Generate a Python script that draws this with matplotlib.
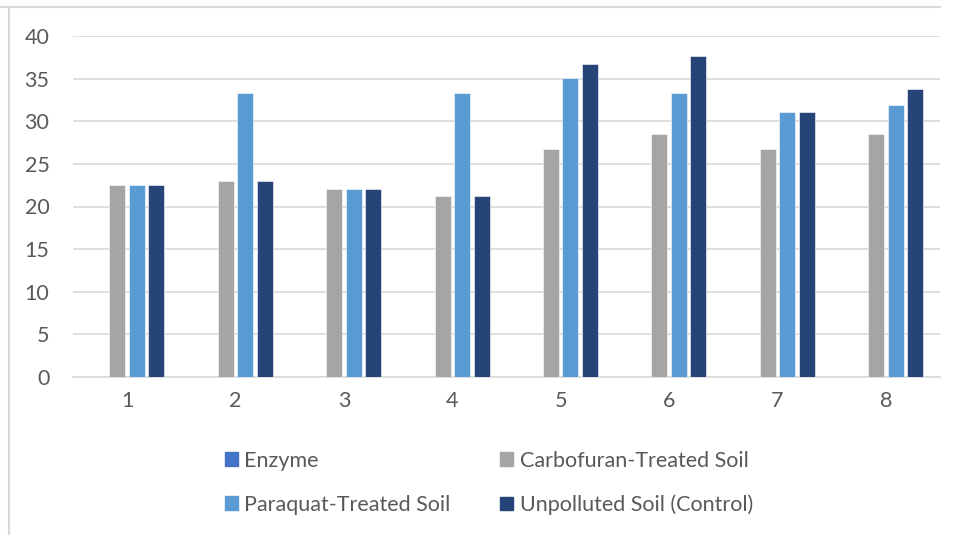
import matplotlib
matplotlib.use("Agg")
import matplotlib.pyplot as plt
import numpy as np
from matplotlib.lines import Line2D
from matplotlib.patches import Patch

categories = ["1", "2", "3", "4", "5", "6", "7", "8"]
series_names = ["Enzyme", "Carbofuran-Treated Soil", "Paraquat-Treated Soil", "Unpolluted Soil (Control)"]
enzyme = [0, 0, 0, 0, 0, 0, 0, 0]
carbofuran = [22.5, 23.0, 22.1, 21.2, 26.8, 28.5, 26.8, 28.5]
paraquat = [22.5, 33.3, 22.1, 33.3, 35.1, 33.3, 31.1, 31.9]
unpolluted = [22.5, 23.0, 22.1, 21.2, 36.7, 37.7, 31.1, 33.8]
yticks = [0, 5, 10, 15, 20, 25, 30, 35, 40]

colors = ["#4472C4", "#A5A5A5", "#5B9BD5", "#264478"]
text_color = "#595959"
grid_color = "#D9D9D9"
font = ["Lato", "DejaVu Sans"]
plt.rcParams["font.family"] = font
fs = 15.5

fig = plt.figure(figsize=(9.54, 5.35), dpi=100)
ax = fig.add_axes([73/954, 1-377/535, (940-73)/954, (377-36)/535])

x = np.arange(len(categories))
step = 0.18
width = 0.148
data = [enzyme, carbofuran, paraquat, unpolluted]
for i, (vals, c) in enumerate(zip(data, colors)):
    ax.bar(x + (i - 1.5) * step, vals, width=width, color=c, zorder=3,
           edgecolor="white", linewidth=0.4)

ax.set_xlim(-0.5, len(categories) - 0.5)
ax.set_ylim(0, 40)
ax.set_yticks(yticks)
ax.set_xticks(x)
ax.set_xticklabels(categories)
ax.yaxis.grid(True, color=grid_color, linewidth=1.2, zorder=0)
ax.set_axisbelow(True)
for s in ["left", "right", "top"]:
    ax.spines[s].set_visible(False)
ax.spines["bottom"].set_color(grid_color)
ax.spines["bottom"].set_linewidth(1.2)
ax.tick_params(axis="both", length=0, labelsize=fs, labelcolor=text_color)
ax.tick_params(axis="y", pad=17)
ax.tick_params(axis="x", pad=10)

# legend
handles = [Patch(color=c) for c in colors]
order = [0, 2, 1, 3]
leg = fig.legend([handles[i] for i in order], [series_names[i] for i in order],
                 ncol=2, loc="center", bbox_to_anchor=(489/954, 1-483/535),
                 frameon=False, fontsize=fs, labelcolor=text_color,
                 handlelength=0.6, handleheight=0.6, handletextpad=0.3,
                 columnspacing=2.3, labelspacing=1.1)

# outer frame lines
fig.add_artist(Line2D([9/954, 9/954], [0, 1-7/535], color=grid_color, lw=1.5))
fig.add_artist(Line2D([0, 940/954], [1-7/535, 1-7/535], color=grid_color, lw=1.5))

fig.savefig("out.png", dpi=100)
